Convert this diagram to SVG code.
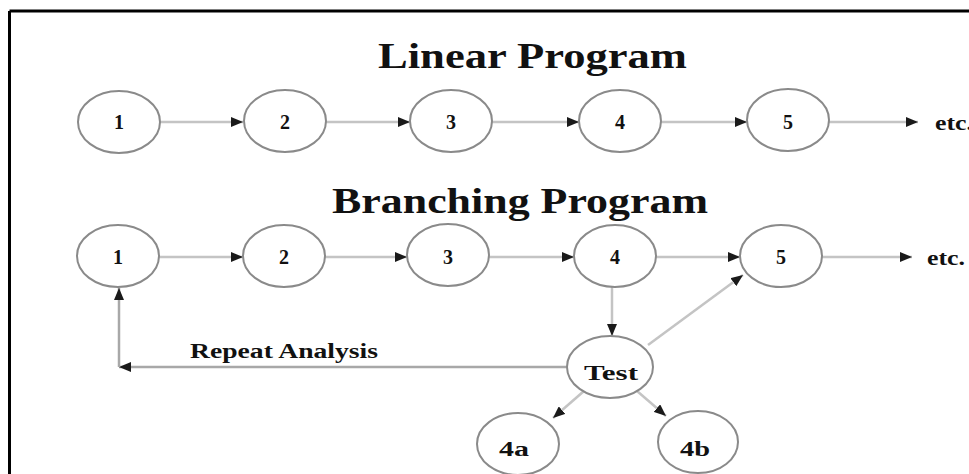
<svg xmlns="http://www.w3.org/2000/svg" width="969" height="474" viewBox="0 0 969 474">
<style>
.node{fill:#ffffff;stroke:#8a8a8a;stroke-width:2}
.lbl{font-family:"Liberation Serif","Times New Roman",serif;font-weight:bold;font-size:20px;fill:#111;text-anchor:middle}
.title{font-family:"Liberation Serif","Times New Roman",serif;font-weight:bold;font-size:35px;fill:#111}
.small{font-family:"Liberation Serif","Times New Roman",serif;font-weight:bold;font-size:20px;fill:#111}
.edge{fill:none;stroke:#c4c4c4;stroke-width:2.5}
.edge2{fill:none;stroke:#a8a8a8;stroke-width:2.5}
</style>
<defs>
<marker id="arr" markerUnits="userSpaceOnUse" markerWidth="14" markerHeight="10" refX="12" refY="5" orient="auto">
<path d="M0,0 L12,5 L0,10 z" fill="#1a1a1a"/>
</marker>
</defs>
<rect x="0" y="0" width="969" height="474" fill="#ffffff"/>
<g id="frame">
<line x1="9.5" y1="11" x2="969" y2="11" stroke="#000" stroke-width="3"/>
<line x1="9.5" y1="11" x2="9.5" y2="474" stroke="#000" stroke-width="3"/>
</g>
<g id="titles">
<text class="title" x="378" y="68" textLength="309" lengthAdjust="spacingAndGlyphs">Linear Program</text>
<text class="title" x="332" y="213" textLength="376" lengthAdjust="spacingAndGlyphs">Branching Program</text>
</g>
<g id="connectors">
<line class="edge" x1="160" y1="122" x2="243" y2="122" marker-end="url(#arr)"/>
<line class="edge" x1="326" y1="122" x2="410" y2="122" marker-end="url(#arr)"/>
<line class="edge" x1="492" y1="122" x2="579" y2="122" marker-end="url(#arr)"/>
<line class="edge" x1="661" y1="122" x2="747" y2="122" marker-end="url(#arr)"/>
<line class="edge" x1="829" y1="122" x2="918" y2="122" marker-end="url(#arr)"/>
<line class="edge" x1="159" y1="257" x2="243" y2="257" marker-end="url(#arr)"/>
<line class="edge" x1="325" y1="257" x2="407" y2="257" marker-end="url(#arr)"/>
<line class="edge" x1="489" y1="257" x2="574" y2="257" marker-end="url(#arr)"/>
<line class="edge" x1="656" y1="257" x2="740" y2="257" marker-end="url(#arr)"/>
<line class="edge" x1="822" y1="257" x2="912" y2="257" marker-end="url(#arr)"/>
<line class="edge" x1="612" y1="287" x2="612" y2="336" marker-end="url(#arr)"/>
<line class="edge" x1="648" y1="345" x2="743" y2="275" marker-end="url(#arr)"/>
<line class="edge" x1="584" y1="391" x2="553" y2="418" marker-end="url(#arr)"/>
<line class="edge" x1="637" y1="391" x2="666" y2="416" marker-end="url(#arr)"/>
<line class="edge2" x1="567" y1="367" x2="119" y2="367" marker-end="url(#arr)"/>
<line class="edge2" x1="119" y1="367" x2="119" y2="288" marker-end="url(#arr)"/>
<text class="small" x="190" y="358" textLength="188" lengthAdjust="spacingAndGlyphs">Repeat Analysis</text>
<text class="small" x="935" y="130" textLength="38" lengthAdjust="spacingAndGlyphs">etc.</text>
<text class="small" x="927" y="265" textLength="38" lengthAdjust="spacingAndGlyphs">etc.</text>
</g>
<g id="L1"><ellipse class="node" cx="119" cy="122" rx="41" ry="31"/><text class="lbl" x="119" y="129">1</text></g>
<g id="L2"><ellipse class="node" cx="285" cy="121" rx="41" ry="31"/><text class="lbl" x="285" y="129">2</text></g>
<g id="L3"><ellipse class="node" cx="451" cy="121" rx="41" ry="31"/><text class="lbl" x="451" y="129">3</text></g>
<g id="L4"><ellipse class="node" cx="620" cy="121" rx="41" ry="31"/><text class="lbl" x="620" y="129">4</text></g>
<g id="L5"><ellipse class="node" cx="788" cy="120" rx="41" ry="31"/><text class="lbl" x="788" y="129">5</text></g>
<g id="B1"><ellipse class="node" cx="118" cy="256" rx="41" ry="31"/><text class="lbl" x="118" y="264">1</text></g>
<g id="B2"><ellipse class="node" cx="284" cy="256" rx="41" ry="31"/><text class="lbl" x="284" y="264">2</text></g>
<g id="B3"><ellipse class="node" cx="448" cy="255" rx="41" ry="31"/><text class="lbl" x="448" y="264">3</text></g>
<g id="B4"><ellipse class="node" cx="615" cy="256" rx="41" ry="31"/><text class="lbl" x="615" y="264">4</text></g>
<g id="B5"><ellipse class="node" cx="781" cy="256" rx="41" ry="31"/><text class="lbl" x="781" y="264">5</text></g>
<g id="Test"><ellipse class="node" cx="610" cy="367" rx="43" ry="31"/><text class="lbl" x="611" y="380" textLength="54" lengthAdjust="spacingAndGlyphs">Test</text></g>
<g id="N4a"><ellipse class="node" cx="518" cy="444" rx="41" ry="31"/><text class="lbl" x="514" y="456" textLength="30" lengthAdjust="spacingAndGlyphs">4a</text></g>
<g id="N4b"><ellipse class="node" cx="698" cy="442" rx="40" ry="31"/><text class="lbl" x="695" y="456" textLength="30" lengthAdjust="spacingAndGlyphs">4b</text></g>
</svg>
